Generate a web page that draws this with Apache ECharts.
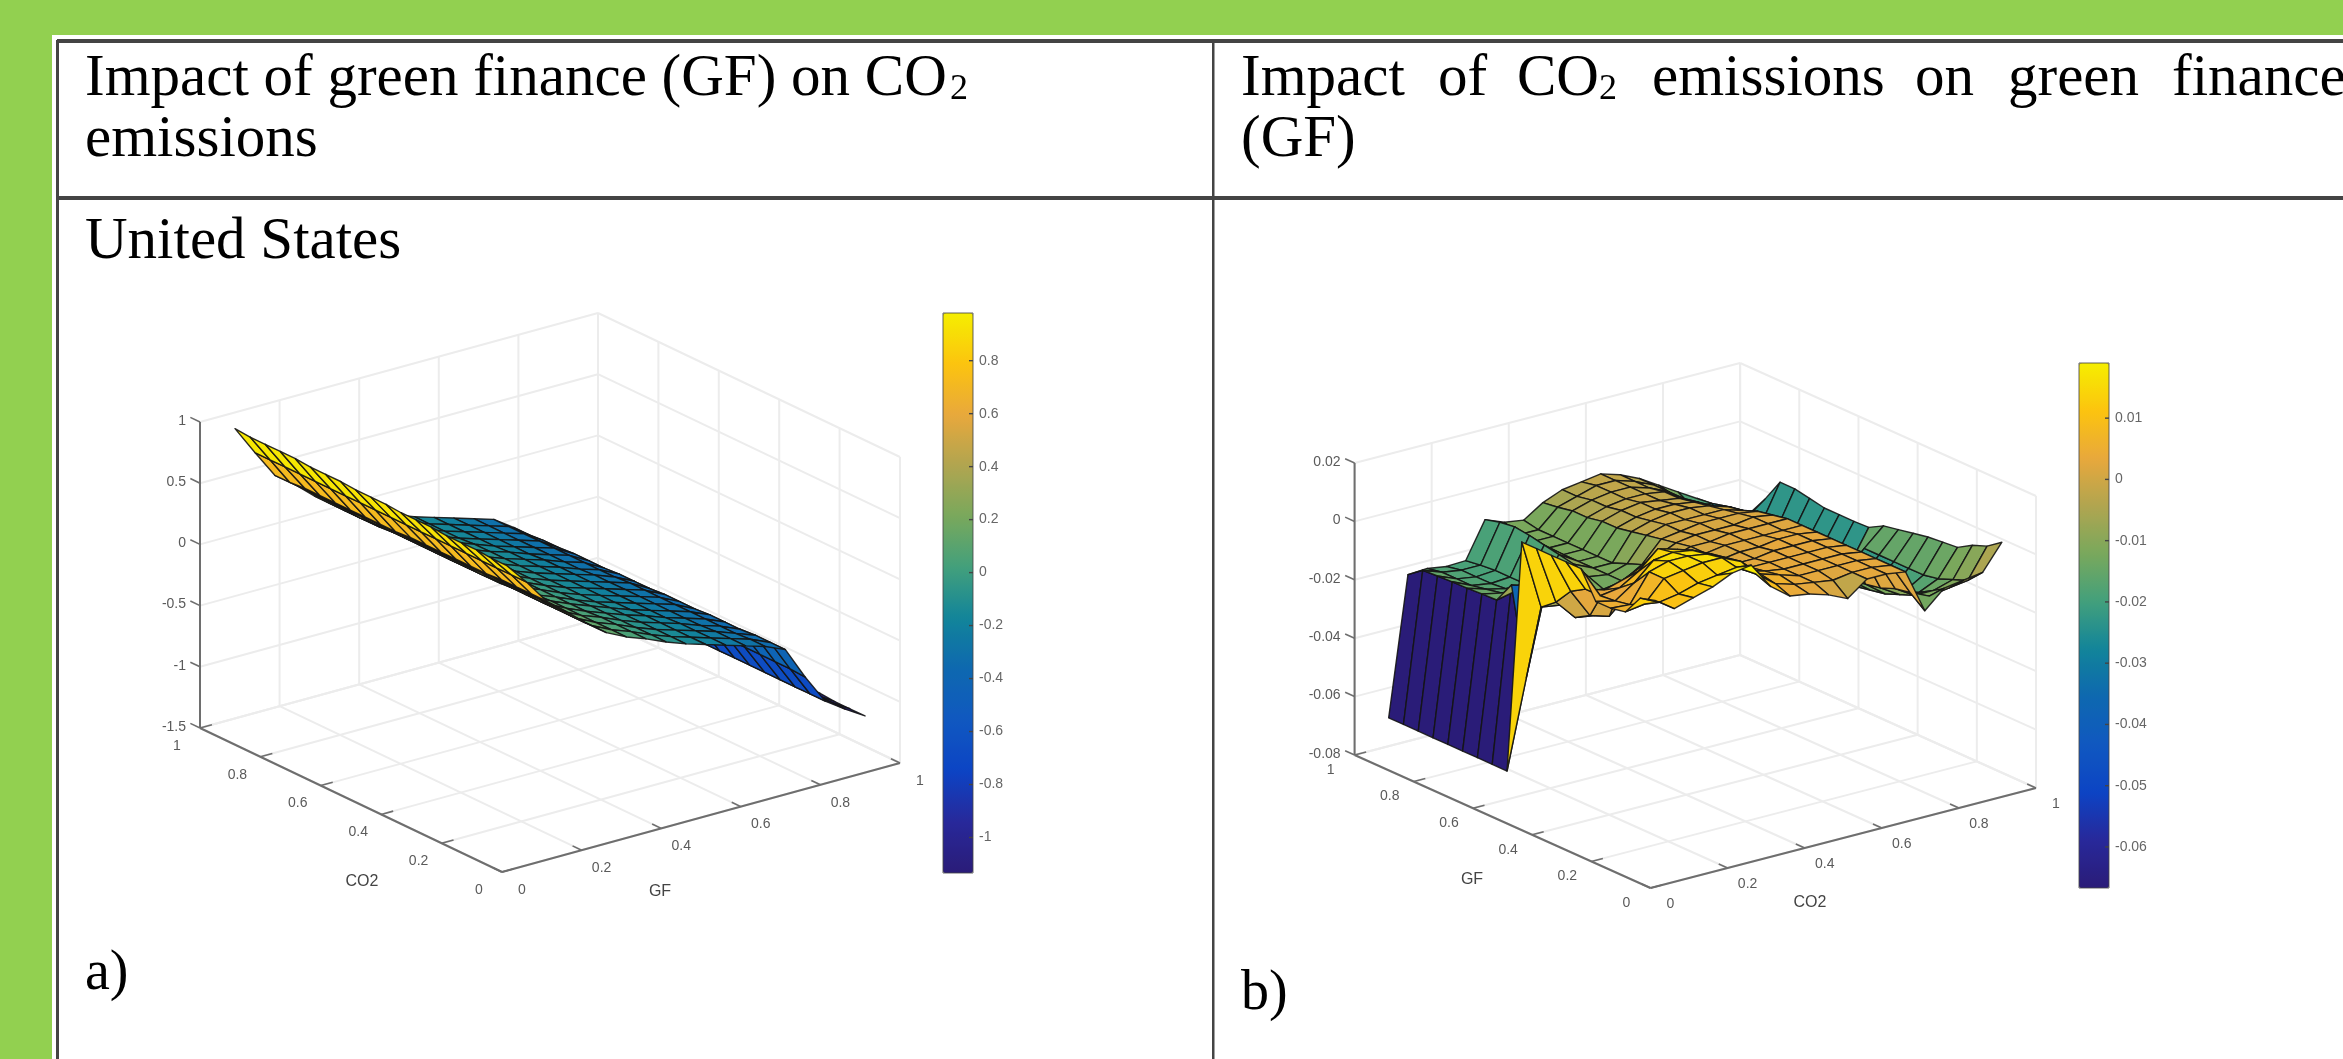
<!DOCTYPE html>
<html><head><meta charset="utf-8">
<style>html,body{margin:0;padding:0;background:linear-gradient(#92D050,#92D050) top/100% 30px no-repeat,linear-gradient(#92D050,#92D050) left/30px 100% no-repeat,#fff;overflow:hidden}#c{width:2343px;height:1059px;filter:blur(0.6px)}</style>
<script src="https://cdn.jsdelivr.net/npm/echarts@6/dist/echarts.min.js"></script></head>
<body><div id="c"></div>
<script>
// ---------- data ----------
const meshSteps = [0.05,0.10,0.15,0.20,0.25,0.30,0.35,0.40,0.45,0.50,0.55,0.60,0.65,0.70,0.75,0.80,0.85,0.90,0.95];
const floorTicks = [0,0.2,0.4,0.6,0.8,1];
const floorTickLabels = ['0','0.2','0.4','0.6','0.8','1'];
const zTicksA = [-1.5,-1,-0.5,0,0.5,1];
const zTickLabelsA = ['-1.5','-1','-0.5','0','0.5','1'];
const zTicksB = [-0.08,-0.06,-0.04,-0.02,0,0.02];
const zTickLabelsB = ['-0.08','-0.06','-0.04','-0.02','0','0.02'];
const barTicksA = [-1,-0.8,-0.6,-0.4,-0.2,0,0.2,0.4,0.6,0.8];
const barTickLabelsA = ['-1','-0.8','-0.6','-0.4','-0.2','0','0.2','0.4','0.6','0.8'];
const barTicksB = [-0.06,-0.05,-0.04,-0.03,-0.02,-0.01,0,0.01];
const barTickLabelsB = ['-0.06','-0.05','-0.04','-0.03','-0.02','-0.01','0','0.01'];
const parula = ['#2a1c78','#28289a','#0c44c4','#1058c0','#0e68b0','#12849a','#42a07c','#79a85c','#b0a550','#e8a83c','#fcc40f','#f5ee00'];
// Panel a: rows = CO2, columns = GF
const zA = [
[0.90,0.72,0.52,0.39,0.25,0.13,0.05,-0.01,-0.08,-0.14,-0.19,-0.24,-0.29,-0.34,-0.41,-0.68,-0.92,-1.03,-1.13],
[0.90,0.72,0.52,0.39,0.25,0.13,0.05,-0.01,-0.08,-0.14,-0.19,-0.24,-0.29,-0.34,-0.41,-0.67,-0.92,-1.03,-1.13],
[0.91,0.72,0.52,0.39,0.25,0.13,0.05,-0.01,-0.08,-0.14,-0.19,-0.24,-0.29,-0.35,-0.41,-0.67,-0.92,-1.03,-1.13],
[0.91,0.72,0.52,0.39,0.25,0.13,0.05,-0.01,-0.08,-0.14,-0.19,-0.24,-0.30,-0.35,-0.42,-0.67,-0.92,-1.03,-1.12],
[0.91,0.72,0.51,0.39,0.25,0.13,0.05,-0.02,-0.08,-0.14,-0.19,-0.25,-0.30,-0.35,-0.42,-0.67,-0.92,-1.03,-1.12],
[0.92,0.72,0.51,0.39,0.25,0.13,0.05,-0.02,-0.08,-0.14,-0.20,-0.25,-0.30,-0.35,-0.42,-0.67,-0.92,-1.03,-1.12],
[0.92,0.72,0.51,0.38,0.25,0.13,0.04,-0.02,-0.09,-0.15,-0.20,-0.25,-0.30,-0.35,-0.43,-0.67,-0.92,-1.03,-1.12],
[0.92,0.72,0.51,0.38,0.24,0.12,0.04,-0.02,-0.09,-0.15,-0.20,-0.25,-0.30,-0.35,-0.43,-0.67,-0.92,-1.03,-1.12],
[0.93,0.72,0.51,0.38,0.24,0.12,0.04,-0.02,-0.09,-0.15,-0.20,-0.25,-0.30,-0.35,-0.43,-0.67,-0.92,-1.03,-1.12],
[0.93,0.72,0.51,0.38,0.24,0.12,0.04,-0.02,-0.09,-0.15,-0.20,-0.25,-0.30,-0.35,-0.44,-0.66,-0.92,-1.03,-1.12],
[0.93,0.72,0.50,0.38,0.24,0.12,0.04,-0.02,-0.09,-0.15,-0.20,-0.25,-0.30,-0.36,-0.44,-0.66,-0.92,-1.03,-1.12],
[0.94,0.72,0.50,0.38,0.24,0.12,0.04,-0.02,-0.09,-0.15,-0.20,-0.25,-0.31,-0.36,-0.44,-0.66,-0.92,-1.03,-1.12],
[0.94,0.72,0.50,0.38,0.24,0.12,0.04,-0.02,-0.09,-0.15,-0.20,-0.25,-0.31,-0.36,-0.45,-0.66,-0.92,-1.03,-1.12],
[0.94,0.72,0.50,0.38,0.24,0.12,0.04,-0.03,-0.09,-0.15,-0.20,-0.26,-0.31,-0.36,-0.45,-0.66,-0.92,-1.03,-1.11],
[0.95,0.72,0.50,0.37,0.24,0.12,0.04,-0.03,-0.09,-0.15,-0.21,-0.26,-0.31,-0.36,-0.45,-0.66,-0.92,-1.03,-1.11],
[0.95,0.72,0.50,0.37,0.23,0.11,0.03,-0.03,-0.10,-0.16,-0.21,-0.26,-0.31,-0.36,-0.46,-0.66,-0.92,-1.03,-1.11],
[0.95,0.72,0.50,0.37,0.23,0.11,0.03,-0.03,-0.10,-0.16,-0.21,-0.26,-0.31,-0.36,-0.46,-0.66,-0.92,-1.03,-1.11],
[0.95,0.72,0.49,0.37,0.23,0.11,0.03,-0.03,-0.10,-0.16,-0.21,-0.26,-0.31,-0.36,-0.47,-0.66,-0.92,-1.03,-1.11],
[0.96,0.72,0.49,0.37,0.23,0.11,0.03,-0.03,-0.10,-0.16,-0.21,-0.26,-0.31,-0.36,-0.47,-0.66,-0.92,-1.03,-1.11]
];
// Panel b: rows = GF, columns = CO2
const zB = [
[0.0145,0.010,0.012,0.014,0.017,0.018,0.009,0.004,0.003,0.001,-0.002,0.003,0.003,0.002,-0.013,-0.007,-0.006,-0.005,0.0036],
[0.013,0.0099,0.011,0.013,0.014,0.015,0.011,0.006,0.004,0.003,0.002,0.003,0.003,0.002,-0.009,-0.012,-0.011,-0.010,0.000],
[0.006,0.007,0.014,0.015,0.016,0.016,0.013,0.007,0.005,0.003,0.003,0.003,0.003,0.002,-0.010,-0.014,-0.014,-0.012,-0.002],
[0.005,0.0045,0.014,0.016,0.016,0.015,0.012,0.006,0.004,0.003,0.003,0.003,0.003,0.002,-0.012,-0.016,-0.017,-0.014,-0.005],
[0.005,0.0035,0.008,0.014,0.015,0.014,0.011,0.005,0.003,0.003,0.003,0.003,0.003,0.002,-0.013,-0.018,-0.019,-0.015,-0.0055],
[0.014,0.003,0.004,0.008,0.014,0.012,0.007,0.003,0.002,0.002,0.003,0.003,0.003,0.002,-0.014,-0.019,-0.021,-0.015,-0.006],
[0.014,0.003,0.001,0.003,0.006,0.006,0.003,0.001,0.001,0.002,0.002,0.003,0.003,0.002,-0.015,-0.020,-0.022,-0.015,-0.007],
[0.014,0.000,-0.010,-0.012,-0.006,-0.002,0.000,0.000,0.001,0.002,0.002,0.002,0.002,0.002,-0.015,-0.020,-0.022,-0.015,-0.008],
[0.014,-0.006,-0.013,-0.014,-0.012,-0.008,-0.004,-0.001,0.001,0.001,0.002,0.002,0.002,0.002,-0.015,-0.021,-0.022,-0.015,-0.009],
[0.014,-0.010,-0.011,-0.013,-0.014,-0.012,-0.008,-0.003,0.000,0.001,0.001,0.001,0.002,0.001,-0.016,-0.021,-0.023,-0.023,-0.0118],
[-0.0667,-0.0365,-0.008,-0.009,-0.012,-0.013,-0.012,-0.008,-0.001,0.000,0.001,0.001,0.001,0.000,-0.016,-0.021,-0.023,-0.023,-0.012],
[-0.0667,-0.007,-0.009,-0.010,-0.012,-0.011,-0.012,-0.010,-0.002,0.000,0.000,0.000,0.000,-0.002,-0.016,-0.021,-0.023,-0.023,-0.012],
[-0.0667,-0.0144,-0.013,-0.014,-0.014,-0.009,-0.012,-0.012,-0.003,-0.001,0.000,0.000,-0.001,-0.003,-0.017,-0.022,-0.024,-0.023,-0.012],
[-0.0667,-0.0146,-0.016,-0.017,-0.017,-0.008,-0.012,-0.012,-0.004,-0.002,-0.001,-0.001,-0.002,-0.005,-0.017,-0.022,-0.025,-0.023,-0.011],
[-0.0667,-0.0149,-0.017,-0.0185,-0.0185,-0.007,-0.012,-0.012,-0.004,-0.002,-0.001,-0.002,-0.003,-0.006,-0.016,-0.022,-0.026,-0.023,-0.010],
[-0.0667,-0.015,-0.018,-0.019,-0.0185,-0.006,-0.012,-0.012,-0.005,-0.003,-0.002,-0.002,-0.003,-0.007,-0.015,-0.022,-0.026,-0.023,-0.010],
[-0.0667,-0.0153,-0.018,-0.019,-0.0185,-0.0053,-0.012,-0.012,-0.005,-0.003,-0.002,-0.002,-0.004,-0.007,-0.013,-0.020,-0.026,-0.023,-0.018],
[-0.0667,-0.0156,-0.018,-0.019,-0.019,-0.006,-0.012,-0.012,-0.006,-0.004,-0.002,-0.002,-0.004,-0.007,-0.012,-0.018,-0.0184,-0.0214,-0.0249],
[-0.0667,-0.0194,-0.019,-0.020,-0.0197,-0.0074,-0.010,-0.011,-0.0067,-0.004,-0.003,-0.002,-0.004,-0.007,-0.011,-0.015,-0.019,-0.023,-0.026]
];
// ---------- layout ----------
const panelA = {B:[502,872],R:[900,763],L:[200,728],H:306,zMin:-1.5,zMax:1,z:zA,zTicks:zTicksA,zLabels:zTickLabelsA,
  offL:[-23,18],offR:[20,18],xTitle:['GF',660,892],yTitle:['CO2',362,882],
  bar:{x:943,y:313,w:30,h:560,min:-1.134,max:0.98,ticks:barTicksA,labels:barTickLabelsA}};
const panelB = {B:[1650.5,888],R:[2036,788],L:[1354.6,755],H:292,zMin:-0.08,zMax:0.02,z:zB,zTicks:zTicksB,zLabels:zTickLabelsB,
  offL:[-24,15],offR:[20,16],xTitle:['CO2',1810,903],yTitle:['GF',1472,880],
  bar:{x:2079,y:363,w:30,h:525,min:-0.0667,max:0.019,ticks:barTicksB,labels:barTickLabelsB}};

function projector(p){
  return function(x,y,z){
    const t=(z-p.zMin)/(p.zMax-p.zMin);
    return [p.B[0]+x*(p.R[0]-p.B[0])+y*(p.L[0]-p.B[0]), p.B[1]+x*(p.R[1]-p.B[1])+y*(p.L[1]-p.B[1])-t*p.H];
  };
}
function line(api,a,b,color,w){
  const s=api.coord(a),e=api.coord(b);
  return {type:'line',silent:true,shape:{x1:s[0],y1:s[1],x2:e[0],y2:e[1]},style:{stroke:color,lineWidth:w}};
}
function label(api,pt,text,size,align,color){
  const s=api.coord(pt);
  return {type:'text',silent:true,style:{x:s[0],y:s[1],text:text,fill:color||'#5a5a5a',font:size+'px "Liberation Sans"',align:align||'center',verticalAlign:'middle'}};
}
function frameSeries(p){
  const P=projector(p), G='#ececec', D='#6e6e6e';
  return {type:'custom',coordinateSystem:'cartesian2d',z:1,silent:true,data:[[0,0]],animation:false,
    renderItem:function(params,api){
      const c=[];
      const zb=p.zMin, zt=p.zMax;
      floorTicks.forEach(function(t){
        c.push(line(api,P(t,0,zb),P(t,1,zb),G,2));
        c.push(line(api,P(0,t,zb),P(1,t,zb),G,2));
        c.push(line(api,P(t,1,zb),P(t,1,zt),G,2));
        c.push(line(api,P(1,t,zb),P(1,t,zt),G,2));
      });
      p.zTicks.forEach(function(v){
        c.push(line(api,P(0,1,v),P(1,1,v),G,2));
        c.push(line(api,P(1,1,v),P(1,0,v),G,2));
      });
      c.push(line(api,P(0,1,zb),P(0,1,zt),D,2));
      c.push(line(api,P(0,0,zb),P(0,1,zb),D,2));
      c.push(line(api,P(0,0,zb),P(1,0,zb),D,2));
      floorTicks.forEach(function(t,i){
        c.push(line(api,P(t,0,zb),P(t,0.03,zb),D,1.6));
        c.push(line(api,P(0,t,zb),P(0.03,t,zb),D,1.6));
        const a=P(t,0,zb), b=P(0,t,zb);
        c.push(label(api,[a[0]+p.offR[0],a[1]+p.offR[1]],floorTickLabels[i],14));
        c.push(label(api,[b[0]+p.offL[0],b[1]+p.offL[1]],floorTickLabels[i],14));
      });
      p.zTicks.forEach(function(v,i){
        c.push(line(api,P(0,1,v),P(0,1.032,v),D,1.6));
        const a=P(0,1,v);
        c.push(label(api,[a[0]-14,a[1]-1],p.zLabels[i],14,'right'));
      });
      c.push(label(api,[p.xTitle[1],p.xTitle[2]],p.xTitle[0],16,'center','#444'));
      c.push(label(api,[p.yTitle[1],p.yTitle[2]],p.yTitle[0],16,'center','#444'));
      return {type:'group',children:c};
    }};
}
function surfaceSeries(p){
  const P=projector(p), n=meshSteps.length, cells=[];
  const ex=[p.R[0]-p.B[0],p.R[1]-p.B[1]], ey=[p.L[0]-p.B[0],p.L[1]-p.B[1]];
  const a=-ey[0], b=ex[0], cc=(ex[1]*a+ey[1]*b)/p.H;
  for(let j=0;j<n-1;j++) for(let i=0;i<n-1;i++){
    const z0=p.z[j][i],z1=p.z[j][i+1],z2=p.z[j+1][i+1],z3=p.z[j+1][i];
    const mz=((z0+z1+z2+z3)/4-p.zMin)/(p.zMax-p.zMin);
    const depth=a*(meshSteps[i]+0.025)+b*(meshSteps[j]+0.025)+cc*mz;
    cells.push({d:depth,v:[i,j,z0,z1,z2,z3]});
  }
  cells.sort(function(u,v){return v.d-u.d;});
  return {type:'custom',coordinateSystem:'cartesian2d',z:2,silent:true,animation:false,
    dimensions:['i','j','z0','z1','z2','z3'],encode:{x:0,y:1},
    data:cells.map(function(c){return c.v;}),
    renderItem:function(params,api){
      const i=api.value(0),j=api.value(1);
      const pts=[P(meshSteps[i],meshSteps[j],api.value(2)),P(meshSteps[i+1],meshSteps[j],api.value(3)),
                 P(meshSteps[i+1],meshSteps[j+1],api.value(4)),P(meshSteps[i],meshSteps[j+1],api.value(5))].map(function(q){return api.coord(q);});
      return {type:'polygon',silent:true,shape:{points:pts},style:{fill:api.visual('color'),stroke:'rgba(20,20,20,0.9)',lineWidth:1.4,lineJoin:'round'}};
    }};
}
function barAnnotation(p){
  const b=p.bar;
  return {type:'custom',coordinateSystem:'cartesian2d',z:10,silent:true,animation:false,data:[[0,0]],
    renderItem:function(params,api){
      const c=[];
      const Y=function(v){return b.y+(b.max-v)/(b.max-b.min)*b.h;};
      [[b.x,b.y,b.x+b.w,b.y],[b.x+b.w,b.y,b.x+b.w,b.y+b.h],[b.x+b.w,b.y+b.h,b.x,b.y+b.h],[b.x,b.y+b.h,b.x,b.y]].forEach(function(q){
        c.push(line(api,[q[0],q[1]],[q[2],q[3]],'rgba(70,70,70,0.7)',1.2));
      });
      b.ticks.forEach(function(v,i){
        const y=Y(v);
        c.push(line(api,[b.x+b.w-4,y],[b.x+b.w,y],'#444',1.4));
        c.push(label(api,[b.x+b.w+6,y],b.labels[i],14,'left','#666'));
      });
      return {type:'group',children:c};
    }};
}
function vmap(p,idx){
  const b=p.bar;
  return {type:'continuous',seriesIndex:idx,dimension:2,min:b.min,max:b.max,left:b.x,top:b.y,itemWidth:b.w,itemHeight:b.h,
    padding:0,calculable:false,hoverLink:false,realtime:false,inRange:{color:parula},outOfRange:{color:parula[0]},silent:true};
}
function serifTitle(text,left,top,size){
  return {text:text,left:left,top:top,padding:0,textStyle:{fontFamily:'Liberation Serif',fontWeight:'normal',fontSize:size,color:'#000'}};
}
const FS=59, T1=50, T2=111;
const option={
  backgroundColor:'#92D050',animation:false,
  title:[
    serifTitle('Impact of green finance (GF) on CO',85,T1,FS), serifTitle('2',950,T1+22,36),
    serifTitle('emissions',85,T2,FS), serifTitle('United States',85,213,FS),
    serifTitle('Impact',1241,T1,FS),serifTitle('of',1438,T1,FS),serifTitle('CO',1517,T1,FS),serifTitle('2',1599,T1+22,36),
    serifTitle('emissions',1652,T1,FS),serifTitle('on',1915,T1,FS),serifTitle('green',2008,T1,FS),serifTitle('finance',2172,T1,FS),
    serifTitle('(GF)',1241,T2,FS),
    serifTitle('a)',85,946,56),serifTitle('b)',1241,966,56)
  ],
  graphic:[
    {type:'rect',silent:true,shape:{x:52,y:35,width:2291,height:1024},style:{fill:'#fff'},z:-5},
    {type:'rect',silent:true,shape:{x:57,y:39,width:2286,height:4},style:{fill:'#444'},z:-4},
    {type:'rect',silent:true,shape:{x:57,y:196,width:2286,height:4},style:{fill:'#444'},z:-4},
    {type:'rect',silent:true,shape:{x:56,y:40,width:3,height:1019},style:{fill:'#444'},z:-4},
    {type:'rect',silent:true,shape:{x:1212,y:40,width:2.5,height:1019},style:{fill:'#444'},z:-4}
  ],
  grid:{left:0,top:0,width:2343,height:1059,show:false},
  xAxis:{type:'value',min:0,max:2343,show:false},
  yAxis:{type:'value',min:0,max:1059,inverse:true,show:false},
  visualMap:[vmap(panelA,1),vmap(panelB,4)],
  series:[frameSeries(panelA),surfaceSeries(panelA),barAnnotation(panelA),frameSeries(panelB),surfaceSeries(panelB),barAnnotation(panelB)]
};
const chart=echarts.init(document.getElementById('c'),null,{renderer:'canvas',width:2343,height:1059});
chart.setOption(option);
</script></body></html>
